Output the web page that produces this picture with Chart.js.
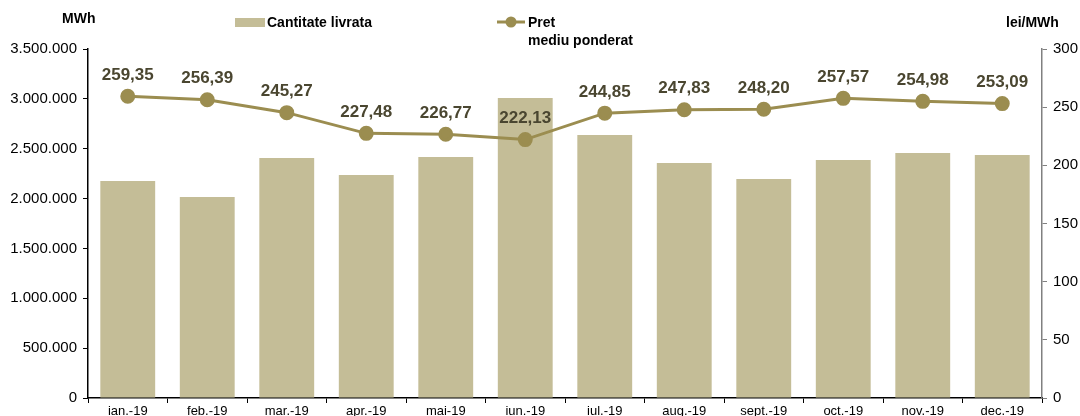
<!DOCTYPE html>
<html>
<head>
<meta charset="utf-8">
<script src="https://cdn.jsdelivr.net/npm/chart.js@4"></script>
<style>
  html, body { margin: 0; padding: 0; background: #fff; }
  #wrap { width: 1080px; height: 416px; position: relative; }
</style>
</head>
<body>
<div id="wrap"><canvas id="chart" width="1080" height="416"></canvas></div>
<script>
const months = ['ian.-19', 'feb.-19', 'mar.-19', 'apr.-19', 'mai-19', 'iun.-19',
                'iul.-19', 'aug.-19', 'sept.-19', 'oct.-19', 'nov.-19', 'dec.-19'];
const cantitate = [2176000, 2016000, 2407000, 2236000, 2417000, 3009000,
                   2638000, 2357000, 2196000, 2387000, 2457000, 2437000];
const pret = [259.35, 256.39, 245.27, 227.48, 226.77, 222.13,
              244.85, 247.83, 248.20, 257.57, 254.98, 253.09];

const barColor = '#c4bd97';
const lineColor = '#9b8d50';
const labelColor = '#4a4630';
const font = '"Liberation Sans", Arial, sans-serif';

// dot as thousands separator: 3.500.000
const fmtThousands = (v) => String(Math.round(v)).replace(/\B(?=(\d{3})+(?!\d))/g, '.');

// price labels above the points, plus the header texts and legend
const overlayPlugin = {
    id: 'overlay',
    afterDatasetsDraw: (chart) => {
        const { ctx } = chart;
        const meta = chart.getDatasetMeta(0);
        ctx.save();
        ctx.font = 'bold 17px ' + font;
        ctx.fillStyle = labelColor;
        ctx.textAlign = 'center';
        ctx.textBaseline = 'middle';
        meta.data.forEach((pt, i) => {
            ctx.fillText(pret[i].toFixed(2).replace('.', ','), pt.x, pt.y - 21);
        });

        ctx.fillStyle = '#000';
        ctx.font = 'bold 14px ' + font;
        ctx.textAlign = 'left';
        ctx.fillText('MWh', 62, 19);
        ctx.fillText('lei/MWh', 1006, 23);

        // legend: bars
        ctx.fillStyle = barColor;
        ctx.fillRect(235, 18, 30, 9);
        ctx.fillStyle = '#000';
        ctx.fillText('Cantitate livrata', 267, 23);

        // legend: line
        ctx.strokeStyle = lineColor;
        ctx.lineWidth = 3;
        ctx.beginPath();
        ctx.moveTo(497, 22);
        ctx.lineTo(525, 22);
        ctx.stroke();
        ctx.fillStyle = lineColor;
        ctx.beginPath();
        ctx.arc(511, 22, 5.5, 0, Math.PI * 2);
        ctx.fill();
        ctx.fillStyle = '#000';
        ctx.fillText('Pret', 528, 23);
        ctx.fillText('mediu ponderat', 528, 41);
        ctx.restore();
    },
};

new Chart(document.getElementById('chart').getContext('2d'), {
    data: {
        labels: months,
        datasets: [
            {
                type: 'line',
                label: 'Pret mediu ponderat',
                data: pret,
                yAxisID: 'y1',
                borderColor: lineColor,
                backgroundColor: lineColor,
                borderWidth: 3,
                pointRadius: 6,
                pointHoverRadius: 6,
                tension: 0,
                order: 0,
            },
            {
                type: 'bar',
                label: 'Cantitate livrata',
                data: cantitate,
                yAxisID: 'y',
                backgroundColor: barColor,
                barPercentage: 0.69,
                categoryPercentage: 1,
                order: 1,
            },
        ],
    },
    options: {
        responsive: false,
        animation: false,
        layout: { padding: { top: 49, left: 0, right: 0, bottom: 0 } },
        plugins: { legend: { display: false }, tooltip: { enabled: false } },
        scales: {
            x: {
                offset: true,
                grid: { display: true, drawOnChartArea: false, offset: true, tickLength: 5, color: '#000' },
                border: { color: '#000', width: 1.5 },
                ticks: { color: '#000', font: { family: font, size: 13 }, padding: 1, maxRotation: 0 },
                afterFit: (s) => { s.height = 18; },
            },
            y: {
                position: 'left',
                min: 0,
                max: 3500000,
                ticks: { stepSize: 500000, color: '#000', font: { family: font, size: 15 }, padding: 6,
                         callback: (v) => fmtThousands(v) },
                grid: { drawOnChartArea: false, tickLength: 5, color: '#000' },
                border: { color: '#000', width: 1.5 },
                afterFit: (s) => { s.width = 88; },
            },
            y1: {
                position: 'right',
                min: 0,
                max: 300,
                ticks: { stepSize: 50, color: '#000', font: { family: font, size: 15 }, padding: 6 },
                grid: { drawOnChartArea: false, tickLength: 5, color: '#808080' },
                border: { color: '#808080', width: 1.5 },
                afterFit: (s) => { s.width = 38; },
            },
        },
    },
    plugins: [overlayPlugin],
});
</script>
</body>
</html>
